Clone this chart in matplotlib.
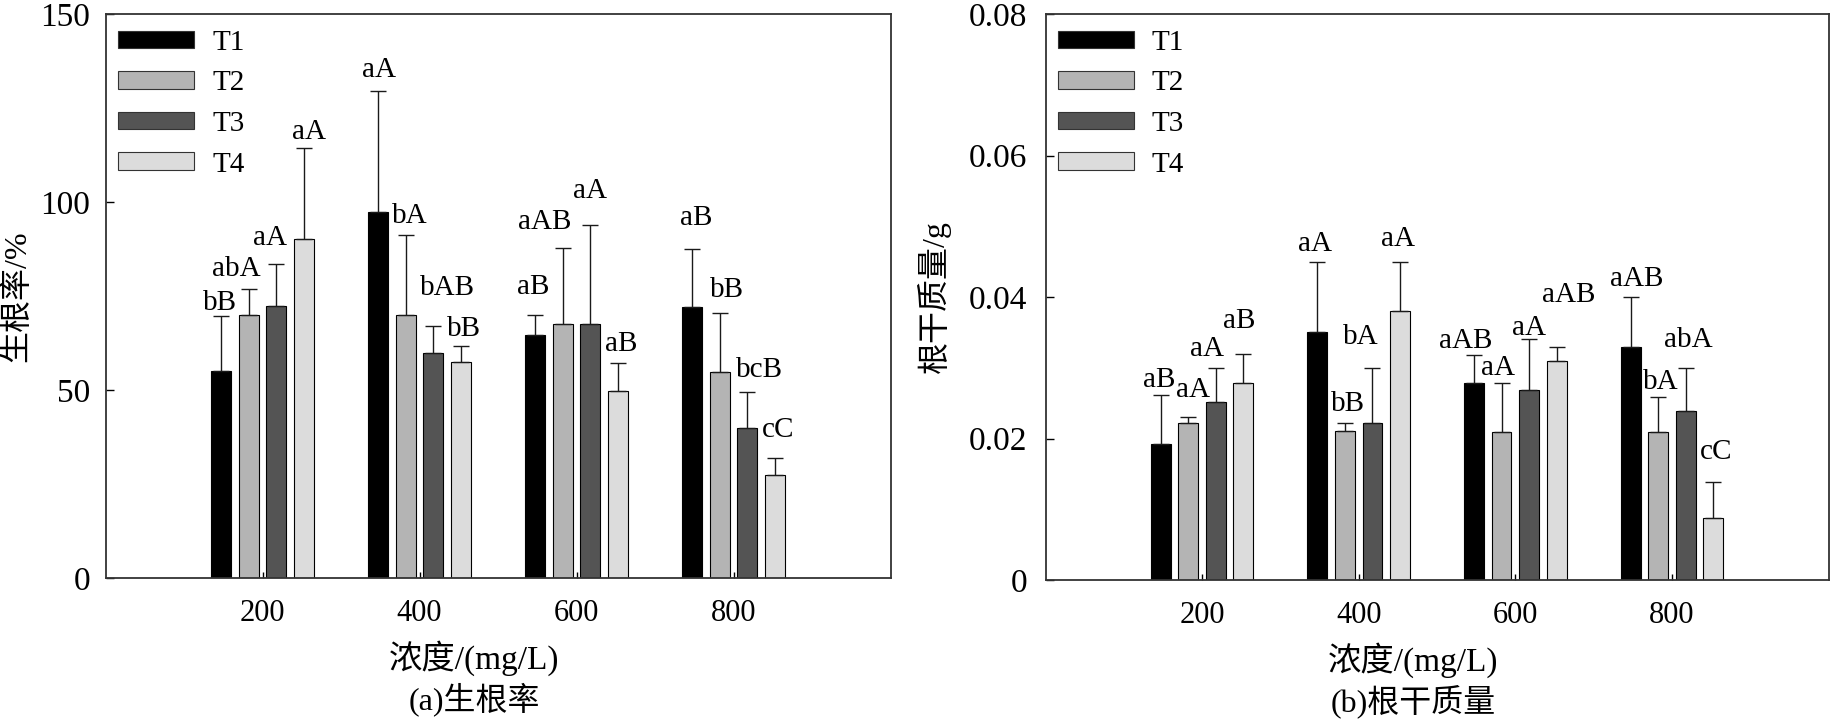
import matplotlib
matplotlib.use("Agg")
import matplotlib.pyplot as plt
import numpy as np
from matplotlib.patches import Patch

plt.rcParams['font.family'] = ['Liberation Serif', 'Noto Sans CJK SC']

# 数据
conc = ["200", "400", "600", "800"]
groups = ["T1", "T2", "T3", "T4"]

# (a) 生根率 /%
rate_T1 = [55.1, 97.4, 64.6, 72.2]
rate_T2 = [69.9, 69.9, 67.5, 54.9]
rate_T3 = [72.3, 59.8, 67.5, 39.8]
rate_T4 = [90.2, 57.5, 49.8, 27.4]
rate_err_T1 = [14.5, 32.1, 5.3, 15.2]
rate_err_T2 = [7.0, 21.2, 20.3, 15.6]
rate_err_T3 = [11.2, 7.3, 26.3, 9.6]
rate_err_T4 = [24.1, 4.2, 7.3, 4.5]
rate_sig_T1 = ["bB", "aA", "aB", "aB"]
rate_sig_T2 = ["abA", "bA", "aAB", "bB"]
rate_sig_T3 = ["aA", "bAB", "aA", "bcB"]
rate_sig_T4 = ["aA", "bB", "aB", "cC"]

# (b) 根干质量 /g
mass_T1 = [0.0192, 0.0351, 0.0278, 0.0329]
mass_T2 = [0.0222, 0.0210, 0.0209, 0.0209]
mass_T3 = [0.0251, 0.0222, 0.0269, 0.0239]
mass_T4 = [0.0279, 0.0380, 0.0310, 0.0088]
mass_err_T1 = [0.0070, 0.0099, 0.0040, 0.0071]
mass_err_T2 = [0.0009, 0.0012, 0.0069, 0.0049]
mass_err_T3 = [0.0049, 0.0078, 0.0072, 0.0060]
mass_err_T4 = [0.0041, 0.0070, 0.0019, 0.0051]
mass_sig_T1 = ["aB", "aA", "aAB", "aAB"]
mass_sig_T2 = ["aA", "bB", "aA", "bA"]
mass_sig_T3 = ["aA", "bA", "aA", "abA"]
mass_sig_T4 = ["aB", "aA", "aAB", "cC"]

# 标注文字的微调（像素：水平偏移, 距误差线顶端高度）
rate_lbl_off = [
    [(-1, 6), (1, 14), (-2, 21), (4, 24)],
    [(-12, 13), (4, 12), (-18, 19), (7, 16)],
    [(-6, 19), (14, 31), (0, 27), (12, 15)],
    [(5, 9), (3, 10), (3, 12), (3, 21)],
]
mass_lbl_off = [
    [(-2, 8), (-2, 11), (-8, 7), (6, 11)],
    [(5, 20), (3, 12), (-4, 8), (3, 8)],
    [(-9, 12), (-12, 24), (0, 4), (3, 21)],
    [(-4, 26), (-2, 16), (12, 45), (3, 23)],
]

COLORS = ["#000000", "#b4b4b4", "#545454", "#dcdcdc"]
FAM = ['Liberation Serif', 'Noto Sans CJK SC']


def _draw(ax, vals, errs, sigs, offs, ylim, yticks, yticklabels, ylabel, ylabel_x, title, ytick_pad):
    x = np.arange(1, len(conc) + 1)
    slot = 0.176
    width = 0.127
    for i in range(len(groups)):
        xi = x + (i - 1.5) * slot
        ax.bar(xi, vals[i], width, color=COLORS[i], edgecolor="black", linewidth=0.8,
               yerr=[np.zeros(len(errs[i])), errs[i]], capsize=6,
               error_kw=dict(elinewidth=1.0, ecolor="#1a1a1a", capthick=1.0), zorder=2)
        for j in range(len(conc)):
            dx, dy = offs[i][j]
            ax.annotate(sigs[i][j], xy=(xi[j], vals[i][j] + errs[i][j]), xytext=(dx, dy),
                        textcoords="offset pixels", ha="center", va="baseline",
                        fontsize=21, zorder=3)

    ax.set_xlim(0, 5)
    ax.set_ylim(*ylim)
    ax.set_xticks(x)
    ax.set_xticklabels(conc, fontsize=22)
    ax.set_yticks(yticks)
    ax.set_yticklabels(yticklabels, fontsize=24)
    ax.tick_params(axis="x", direction="in", length=4, pad=15, width=1)
    ax.tick_params(axis="y", direction="in", length=6, pad=ytick_pad, width=1)
    for s in ax.spines.values():
        s.set_color("#333333")
        s.set_linewidth(1.3)

    ax.set_ylabel(ylabel, fontsize=23, family=FAM)
    ax.yaxis.set_label_coords(ylabel_x, 0.5)
    ax.text(0.47, -0.142, "浓度/(mg/L)", transform=ax.transAxes, ha="center", va="center",
            fontsize=24, family=FAM)
    ax.text(0.47, -0.215, title, transform=ax.transAxes, ha="center", va="center",
            fontsize=23, family=FAM)

    handles = [Patch(facecolor=COLORS[i], edgecolor="#333333", linewidth=0.8) for i in range(len(groups))]
    ax.legend(handles, groups, loc="upper left", bbox_to_anchor=(0.016, 0.972), frameon=False,
              fontsize=21, handlelength=2.6, handleheight=0.55, handletextpad=0.62,
              labelspacing=0.5, borderpad=0, borderaxespad=0)


def main():
    fig = plt.figure(figsize=(18.35, 7.22), dpi=100)
    W, H = 1835.0, 722.0
    ax1 = fig.add_axes([105.6 / W, (H - 578) / H, 785 / W, 564 / H])
    ax2 = fig.add_axes([1045.5 / W, (H - 580) / H, 783 / W, 566 / H])

    _draw(ax1,
          [rate_T1, rate_T2, rate_T3, rate_T4],
          [rate_err_T1, rate_err_T2, rate_err_T3, rate_err_T4],
          [rate_sig_T1, rate_sig_T2, rate_sig_T3, rate_sig_T4],
          rate_lbl_off, (0, 150), [0, 50, 100, 150], ["0", "50", "100", "150"],
          "生根率/%", -0.094, "(a)生根率", 11)

    _draw(ax2,
          [mass_T1, mass_T2, mass_T3, mass_T4],
          [mass_err_T1, mass_err_T2, mass_err_T3, mass_err_T4],
          [mass_sig_T1, mass_sig_T2, mass_sig_T3, mass_sig_T4],
          mass_lbl_off, (0, 0.08), [0, 0.02, 0.04, 0.06, 0.08], ["0", "0.02", "0.04", "0.06", "0.08"],
          "根干质量/g", -0.121, "(b)根干质量", 13)

    fig.savefig("out.png", dpi=100)
    plt.close(fig)


if __name__ == "__main__":
    main()
